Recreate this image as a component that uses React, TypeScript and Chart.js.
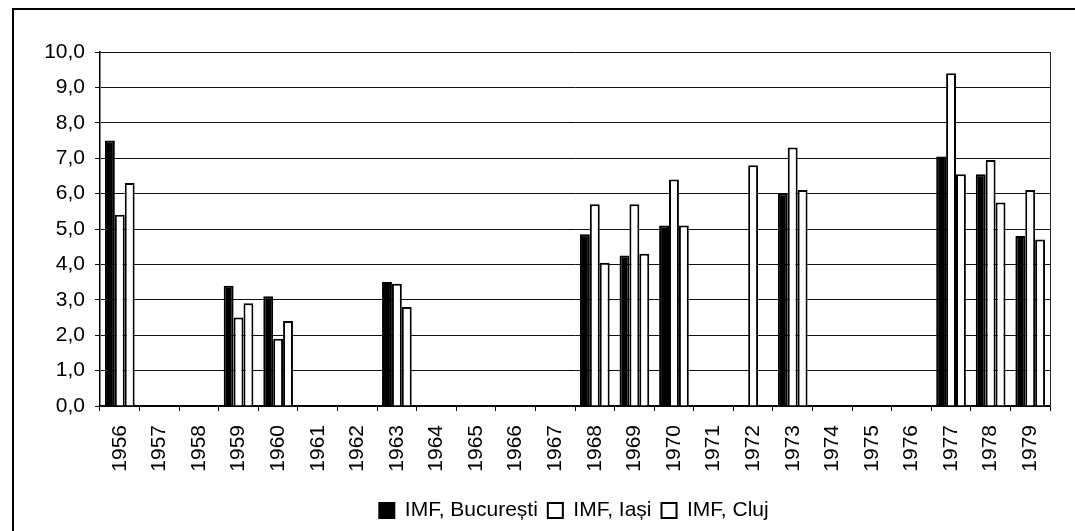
import React, { useEffect, useRef } from "react";
import { Chart, registerables } from "chart.js";

Chart.register(...registerables);

const years = [
  "1956", "1957", "1958", "1959", "1960", "1961", "1962", "1963", "1964", "1965", "1966", "1967",
  "1968", "1969", "1970", "1971", "1972", "1973", "1974", "1975", "1976", "1977", "1978", "1979",
];

const bucuresti = [
  7.5, null, null, 3.4, 3.1, null, null, 3.5, null, null, null, null,
  4.85, 4.25, 5.1, null, null, 6.0, null, null, null, 7.05, 6.55, 4.8,
];

const iasi = [
  5.4, null, null, 2.5, 1.9, null, null, 3.45, null, null, null, null,
  5.7, 5.7, 6.4, null, 6.8, 7.3, null, null, null, 9.4, 6.95, 6.1,
];

const cluj = [
  6.3, null, null, 2.9, 2.4, null, null, 2.8, null, null, null, null,
  4.05, 4.3, 5.1, null, null, 6.1, null, null, null, 6.55, 5.75, 4.7,
];

const seriesNames = ["IMF, București", "IMF, Iași", "IMF, Cluj"];

const FONT = "'Liberation Sans', Arial, sans-serif";

const framePlugin = {
  id: "frame",
  afterLayout(chart: any) {
    if (chart.legend) {
      chart.legend.left += 43;
      chart.legend.right += 43;
    }
  },
  beforeDraw(chart: any) {
    const ctx = chart.ctx;
    ctx.save();
    ctx.strokeStyle = "#000";
    ctx.lineWidth = 2;
    ctx.strokeRect(13, 9, 3000, 3000);
    ctx.restore();
  },
  afterDatasetsDraw(chart: any) {
    const { ctx, chartArea } = chart;
    ctx.save();
    ctx.strokeStyle = "#222";
    ctx.lineWidth = 1;
    ctx.beginPath();
    ctx.moveTo(chartArea.right + 0.5, chartArea.top);
    ctx.lineTo(chartArea.right + 0.5, chartArea.bottom);
    ctx.stroke();
    ctx.restore();
  },
};

export default function App() {
  const ref = useRef<HTMLCanvasElement | null>(null);

  useEffect(() => {
    if (!ref.current) return;
    const chart = new Chart(ref.current, {
      type: "bar",
      data: {
        labels: years,
        datasets: [
          {
            label: seriesNames[0],
            data: bucuresti,
            backgroundColor: "#000",
            borderColor: "#000",
            borderWidth: 2,
          },
          {
            label: seriesNames[1],
            data: iasi,
            backgroundColor: "#fff",
            borderColor: "#000",
            borderWidth: 2,
          },
          {
            label: seriesNames[2],
            data: cluj,
            backgroundColor: "#fff",
            borderColor: "#000",
            borderWidth: 2,
          },
        ],
      },
      options: {
        animation: false,
        responsive: false,
        maintainAspectRatio: false,
        datasets: {
          bar: {
            categoryPercentage: 0.75,
            barPercentage: 1.0,
          },
        },
        layout: {
          padding: { left: 12, top: 52, right: 25, bottom: 0 },
        },
        plugins: {
          tooltip: { enabled: false },
          legend: {
            position: "bottom",
            labels: {
              boxWidth: 15,
              boxHeight: 15,
              padding: 10,
              color: "#000",
              font: { family: FONT, size: 21 },
            },
          },
        },
        scales: {
          x: {
            afterFit(scale: any) {
              scale.height = 84;
            },
            grid: {
              offset: true,
              drawOnChartArea: false,
              drawTicks: true,
              tickLength: 5,
              color: "#000",
              lineWidth: 1,
            },
            border: { display: true, color: "#000", width: 1.5 },
            ticks: {
              autoSkip: false,
              minRotation: 90,
              maxRotation: 90,
              padding: 14,
              color: "#000",
              font: { family: FONT, size: 21 },
            },
          },
          y: {
            min: 0,
            max: 10,
            afterFit(scale: any) {
              scale.width = 88;
            },
            grid: {
              color: "#111",
              lineWidth: 1,
              drawTicks: true,
              tickLength: 5,
            },
            border: { display: true, color: "#000", width: 1.5 },
            ticks: {
              stepSize: 1,
              padding: 10,
              color: "#000",
              font: { family: FONT, size: 21 },
              callback: (v: any) => Number(v).toFixed(1).replace(".", ","),
            },
          },
        },
      },
      plugins: [framePlugin],
    });
    return () => chart.destroy();
  }, []);

  return (
    <div style={{ position: "absolute", left: 0, top: 0, width: 1075, height: 531 }}>
      <canvas ref={ref} width={1075} height={531} style={{ display: "block" }} />
    </div>
  );
}
